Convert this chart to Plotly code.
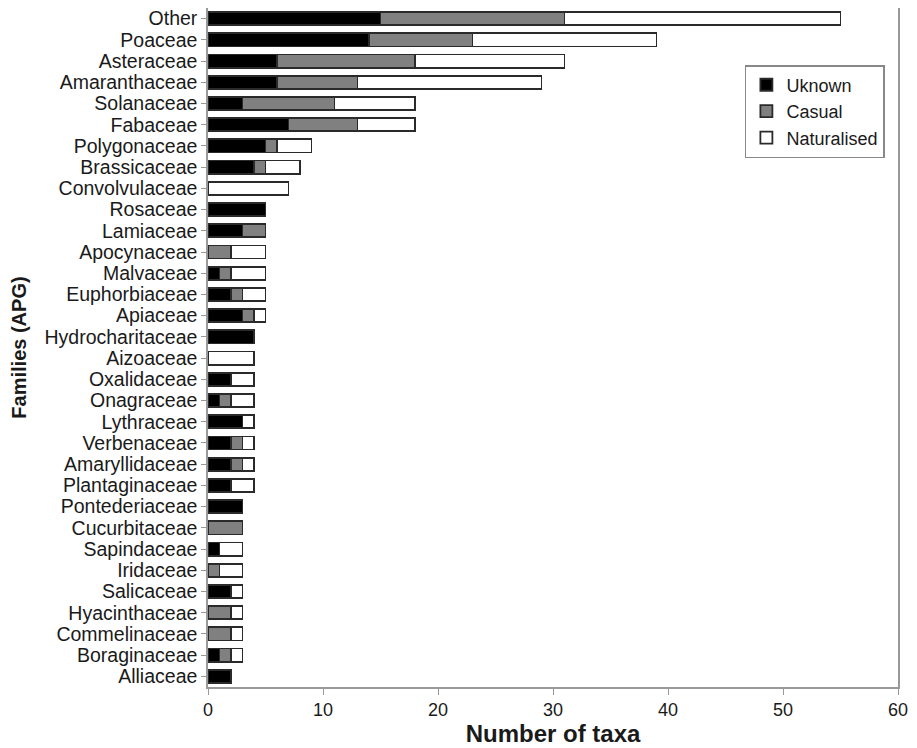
import plotly.graph_objects as go

families = ["Other", "Poaceae", "Asteraceae", "Amaranthaceae", "Solanaceae", "Fabaceae",
            "Polygonaceae", "Brassicaceae", "Convolvulaceae", "Rosaceae", "Lamiaceae",
            "Apocynaceae", "Malvaceae", "Euphorbiaceae", "Apiaceae", "Hydrocharitaceae",
            "Aizoaceae", "Oxalidaceae", "Onagraceae", "Lythraceae", "Verbenaceae",
            "Amaryllidaceae", "Plantaginaceae", "Pontederiaceae", "Cucurbitaceae",
            "Sapindaceae", "Iridaceae", "Salicaceae", "Hyacinthaceae", "Commelinaceae",
            "Boraginaceae", "Alliaceae"]
unknown = [15, 14, 6, 6, 3, 7, 5, 4, 0, 5, 3, 0, 1, 2, 3, 4, 0, 2, 1, 3, 2, 2, 2, 3, 0, 1, 0, 2, 0, 0, 1, 2]
casual = [16, 9, 12, 7, 8, 6, 1, 1, 0, 0, 2, 2, 1, 1, 1, 0, 0, 0, 1, 0, 1, 1, 0, 0, 3, 0, 1, 0, 2, 2, 1, 0]
naturalised = [24, 16, 13, 16, 7, 5, 3, 3, 7, 0, 0, 3, 3, 2, 1, 0, 4, 2, 2, 1, 1, 1, 2, 0, 0, 2, 2, 1, 1, 1, 1, 0]
x_ticks = [0, 10, 20, 30, 40, 50, 60]

font = "Liberation Sans, Arial, sans-serif"
line = dict(color="#2a2a2a", width=1.8)

fig = go.Figure()
for name, vals, col in [("Uknown", unknown, "#000000"),
                        ("Casual", casual, "#808080"),
                        ("Naturalised", naturalised, "#ffffff")]:
    fig.add_trace(go.Bar(y=families, x=vals, name=name, orientation="h",
                         legendgroup=name,
                         marker=dict(color=col, line=line)))

# page body has an 8px margin, so the figure is offset by 8px right/down
fig.update_layout(
    barmode="stack", bargap=0.38,
    width=909, height=740,
    margin=dict(l=200, r=19, t=0, b=61, autoexpand=False),
    paper_bgcolor="white", plot_bgcolor="white",
    font=dict(family=font, size=18, color="#1a1a1a"),
    showlegend=True,
    legend=dict(x=0.981, y=0.916, xanchor="right", yanchor="top",
                bordercolor="#888888", borderwidth=1.5, bgcolor="white",
                font=dict(size=18), traceorder="grouped",
                itemwidth=30, tracegroupgap=0),
    xaxis=dict(range=[0, 60], tickvals=x_ticks, showgrid=False, zeroline=False,
               automargin=False,
               showline=True, linecolor="#999999", linewidth=1.5, mirror=True,
               ticks="outside", ticklen=6, tickcolor="#999999",
               tickfont=dict(size=18),
               title=dict(text="<b>Number of taxa</b>", font=dict(size=24), standoff=4)),
    yaxis=dict(categoryorder="array", categoryarray=families, autorange="reversed",
               tickmode="array", tickvals=families, ticktext=families,
               automargin=False,
               showgrid=False, showline=True, linecolor="#999999", linewidth=1.5,
               mirror=True, ticks="outside", ticklen=5, tickcolor="#999999",
               tickfont=dict(size=19.5),
               title=dict(text="<b>Families (APG)</b>", font=dict(size=20), standoff=15)),
)

fig.write_html("out.html")
